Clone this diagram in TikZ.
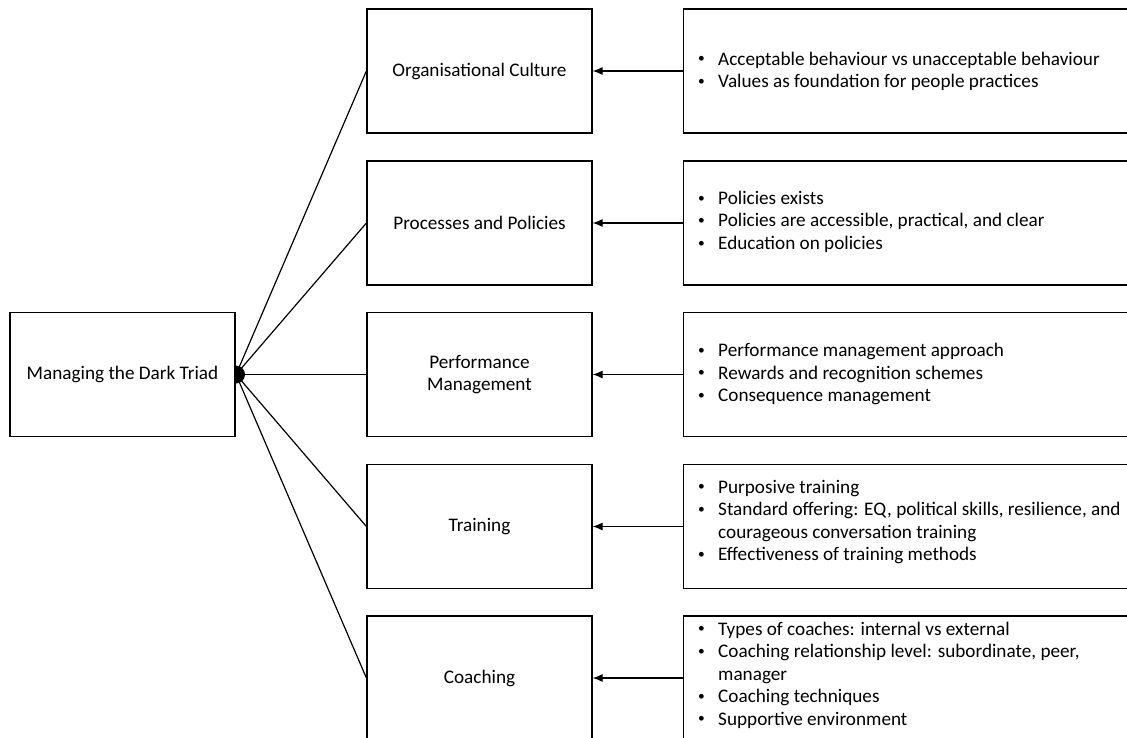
\documentclass[tikz,border=0pt]{standalone}
\usepackage{fontspec}
\setmainfont{Carlito}
\usetikzlibrary{arrows.meta}
\newcommand{\bul}{\makebox[21pt][l]{\hspace{1pt}\raisebox{0.12em}{\scalebox{0.7}{\textbullet}}}}
\begin{document}
\begin{tikzpicture}[x=1pt,y=-1pt,
  txt/.style={font=\fontsize{19.2}{22.5}\selectfont},
  box/.style={draw, line width=1.2pt, fill=white, minimum width=225pt, minimum height=124pt, inner sep=0pt, align=center, txt},
  wide/.style={draw, line width=1.2pt, minimum width=480pt, minimum height=124pt, inner sep=0pt, anchor=west},
  list/.style={anchor=west, inner sep=0pt, txt},
  link/.style={line width=1.2pt},
  arr/.style={line width=1.2pt, -{Latex[length=10pt,width=8pt]}}]
\useasboundingbox (0,0) rectangle (1127,738);
\clip (0,0) rectangle (1127,738);
\coordinate (hub) at (236,374.5);
\fill (hub) circle (9pt);
\node[box] (root) at (122.5,374.5) {Managing the Dark Triad};

\node[box] (m1) at (479.5,71) {Organisational Culture};
\node[box] (m2) at (479.5,223) {Processes and Policies};
\node[box] (m3) at (479.5,374.5) {Performance\\Management};
\node[box] (m4) at (479.5,526.5) {Training};
\node[box] (m5) at (479.5,678) {Coaching};

\foreach \i in {1,...,5} \draw[link] (hub) -- (m\i.west);

\node[wide] (r1) at (683,71) {};
\node[wide] (r2) at (683,223) {};
\node[wide] (r3) at (683,374.5) {};
\node[wide] (r4) at (683,526.5) {};
\node[wide] (r5) at (683,678) {};

\node[list] (t1) at (697,72) {\begin{tabular}{@{}l@{}}
\bul Acceptable behaviour vs unacceptable behaviour\\
\bul Values as foundation for people practices\end{tabular}};
\node[list] (t2) at (697,222.5) {\begin{tabular}{@{}l@{}}
\bul Policies exists\\
\bul Policies are accessible, practical, and clear\\
\bul Education on policies\end{tabular}};
\node[list] (t3) at (697,374.5) {\begin{tabular}{@{}l@{}}
\bul Performance management approach\\
\bul Rewards and recognition schemes\\
\bul Consequence management\end{tabular}};
\node[list] (t4) at (697,522.5) {\begin{tabular}{@{}l@{}}
\bul Purposive training\\
\bul Standard offering: EQ, political skills, resilience, and\\
\hspace{21pt}courageous conversation training\\
\bul Effectiveness of training methods\end{tabular}};
\node[list] (t5) at (697,675.5) {\begin{tabular}{@{}l@{}}
\bul Types of coaches: internal vs external\\
\bul Coaching relationship level: subordinate, peer,\\
\hspace{21pt}manager\\
\bul Coaching techniques\\
\bul Supportive environment\end{tabular}};

\foreach \i in {1,...,5} \draw[arr] (r\i.west) -- (m\i.east);
\end{tikzpicture}
\end{document}
